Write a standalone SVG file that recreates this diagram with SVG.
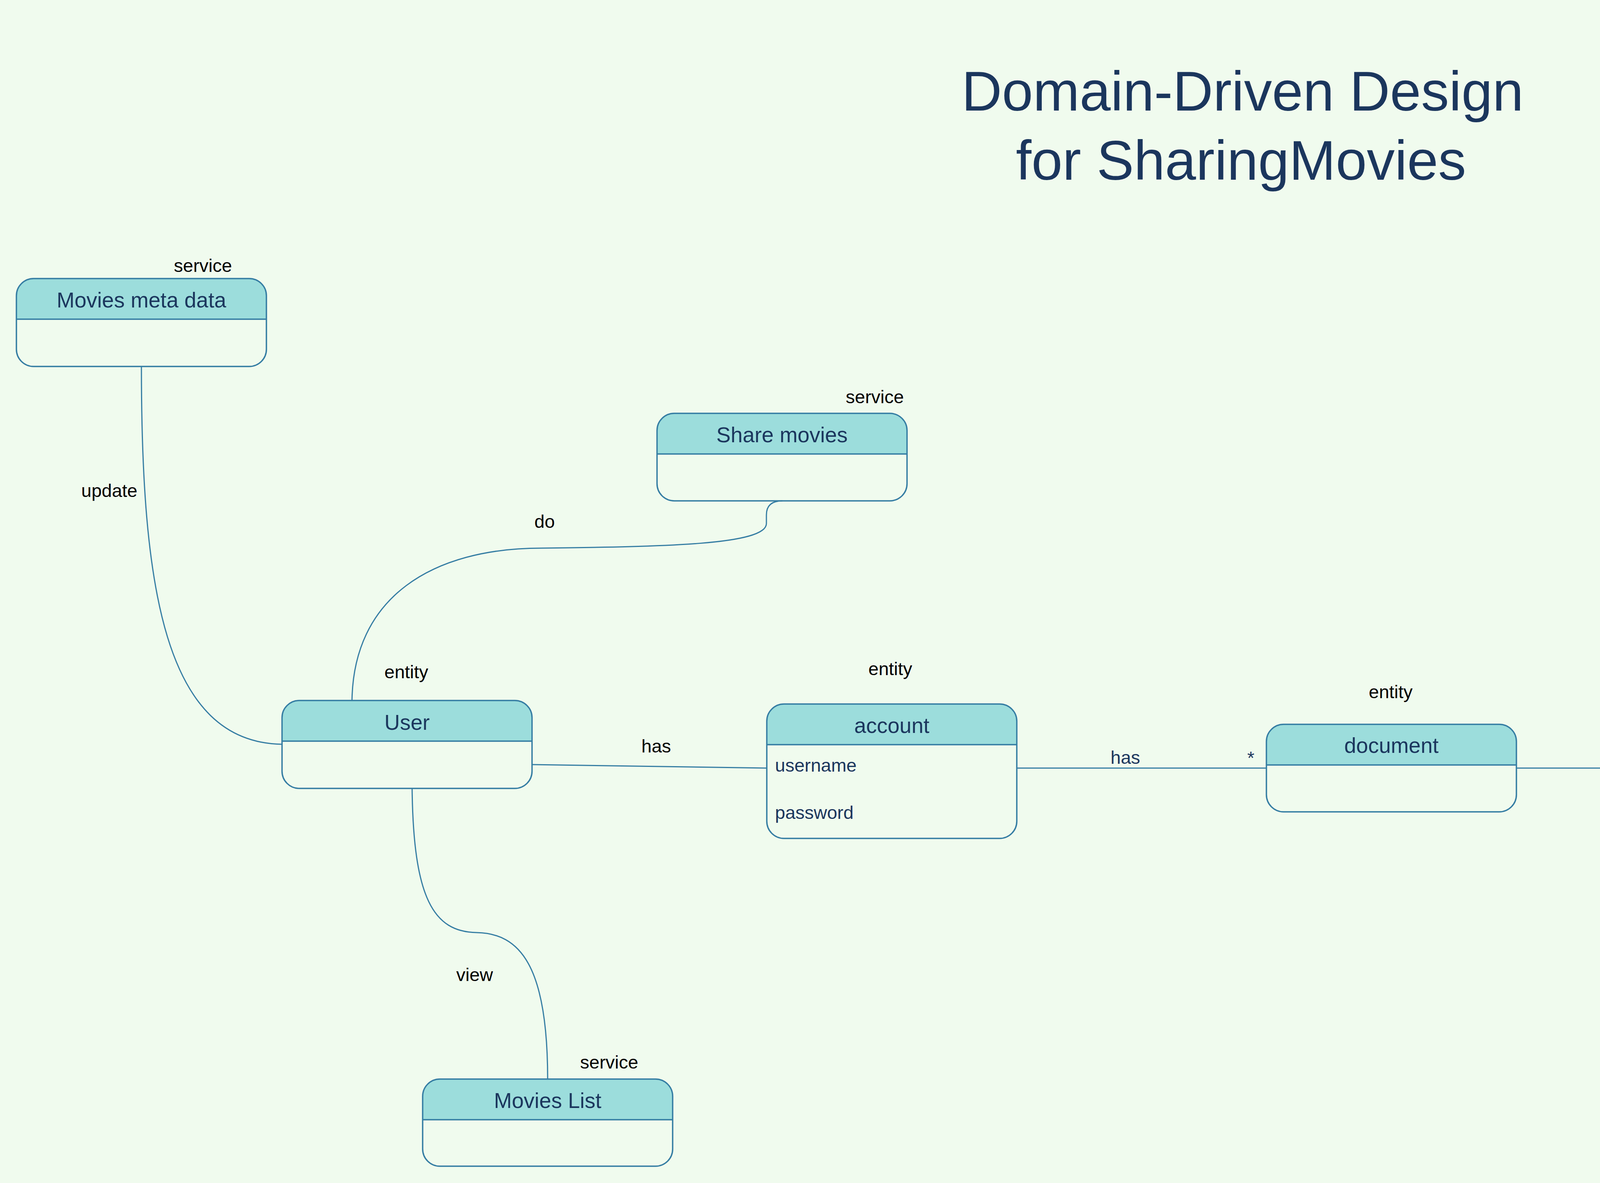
<svg xmlns="http://www.w3.org/2000/svg" width="5128" height="3028" viewBox="0 0 5128 3028">
<defs>
<style>
.bg{fill:#F0FBEE}
.hdr{fill:#9CDDDC;stroke:none}
.box{fill:none;stroke:#357DA3;stroke-width:3.5}
.sep{stroke:#357DA3;stroke-width:3.5}
.conn{fill:none;stroke:#357DA3;stroke-width:3}
.title{font-family:"Liberation Sans",Arial,sans-serif;font-size:143px;fill:#1B365D;text-anchor:middle}
.name{font-family:"Liberation Sans",Arial,sans-serif;font-size:55px;fill:#1B365D;text-anchor:middle}
.attr{font-family:"Liberation Sans",Arial,sans-serif;font-size:47px;fill:#1B365D}
.lbl{font-family:"Liberation Sans",Arial,sans-serif;font-size:47px;fill:#000000}
.lbln{font-family:"Liberation Sans",Arial,sans-serif;font-size:47px;fill:#1B365D}
</style>
<path id="hdrShape" d="M0,104 V44 A44,44 0 0 1 44,0 H596 A44,44 0 0 1 640,44 V104 Z"/>
</defs>
<rect class="bg" x="0" y="0" width="5128" height="3028"/>

<g id="title">
<text class="title" x="3181" y="283">Domain-Driven Design</text>
<text class="title" x="3177" y="460">for SharingMovies</text>
</g>

<g id="connectors">
<path id="c-update" class="conn" d="M362,938 C362,1500 420,1900 722,1905"/>
<path id="c-do" class="conn" d="M901,1801 C901,1526 1110,1403 1386,1403 C1700,1399 1962,1395 1962,1340 L1962,1318 C1962,1292 1978,1282 2003,1282"/>
<path id="c-view" class="conn" d="M1055,2017 C1058,2300 1110,2385 1220,2387 C1330,2389 1402,2470 1402,2762"/>
<path id="c-has1" class="conn" d="M1362,1957 L1963,1966"/>
<path id="c-has2" class="conn" d="M2603,1966 L3242,1966"/>
<path id="c-has3" class="conn" d="M3882,1966 L4442,1966"/>
<text class="lbl" x="208" y="1272">update</text>
<text class="lbl" x="1368" y="1351">do</text>
<text class="lbl" x="1168" y="2511">view</text>
<text class="lbl" x="1642" y="1926">has</text>
<text class="lbln" x="2843" y="1955">has</text>
<text class="lbln" x="3193" y="1956">*</text>
<text class="lbln" x="4122" y="1928">has</text>
<text class="lbln" x="4391" y="1955">*</text>
</g>

<g id="node-movies-meta-data" transform="translate(42,713)">
<use href="#hdrShape" class="hdr"/>
<line class="sep" x1="0" y1="104" x2="640" y2="104"/>
<rect class="box" x="0" y="0" width="640" height="225" rx="44" ry="44"/>
<text class="name" x="320" y="74">Movies meta data</text>
<text class="lbl" x="403" y="-17">service</text>
</g>

<g id="node-share-movies" transform="translate(1682,1058)">
<use href="#hdrShape" class="hdr"/>
<line class="sep" x1="0" y1="104" x2="640" y2="104"/>
<rect class="box" x="0" y="0" width="640" height="224" rx="44" ry="44"/>
<text class="name" x="320" y="74">Share movies</text>
<text class="lbl" x="483" y="-26">service</text>
</g>

<g id="node-user" transform="translate(722,1793)">
<use href="#hdrShape" class="hdr"/>
<line class="sep" x1="0" y1="104" x2="640" y2="104"/>
<rect class="box" x="0" y="0" width="640" height="225" rx="44" ry="44"/>
<text class="name" x="320" y="75">User</text>
<text class="lbl" x="262" y="-57">entity</text>
</g>

<g id="node-account" transform="translate(1963,1802)">
<use href="#hdrShape" class="hdr"/>
<line class="sep" x1="0" y1="104" x2="640" y2="104"/>
<rect class="box" x="0" y="0" width="640" height="344" rx="44" ry="44"/>
<text class="name" x="320" y="74">account</text>
<text class="attr" x="21" y="173">username</text>
<text class="attr" x="21" y="294">password</text>
<text class="lbl" x="260" y="-74">entity</text>
</g>

<g id="node-document" transform="translate(3242,1854)">
<use href="#hdrShape" class="hdr"/>
<line class="sep" x1="0" y1="104" x2="640" y2="104"/>
<rect class="box" x="0" y="0" width="640" height="224" rx="44" ry="44"/>
<text class="name" x="320" y="73">document</text>
<text class="lbl" x="262" y="-67">entity</text>
</g>

<g id="node-media" transform="translate(4442,1802)">
<use href="#hdrShape" class="hdr"/>
<line class="sep" x1="0" y1="104" x2="640" y2="104"/>
<rect class="box" x="0" y="0" width="640" height="464" rx="44" ry="44"/>
<text class="name" x="320" y="74">Media</text>
<text class="attr" x="21" y="171">media_type</text>
<text class="attr" x="21" y="294">url</text>
<text class="attr" x="21" y="414">meta_data</text>
<text class="lbl" x="261" y="-67">entity</text>
</g>

<g id="node-movies-list" transform="translate(1082,2762)">
<use href="#hdrShape" class="hdr"/>
<line class="sep" x1="0" y1="104" x2="640" y2="104"/>
<rect class="box" x="0" y="0" width="640" height="223" rx="44" ry="44"/>
<text class="name" x="320" y="74">Movies List</text>
<text class="lbl" x="403" y="-27">service</text>
</g>
</svg>
